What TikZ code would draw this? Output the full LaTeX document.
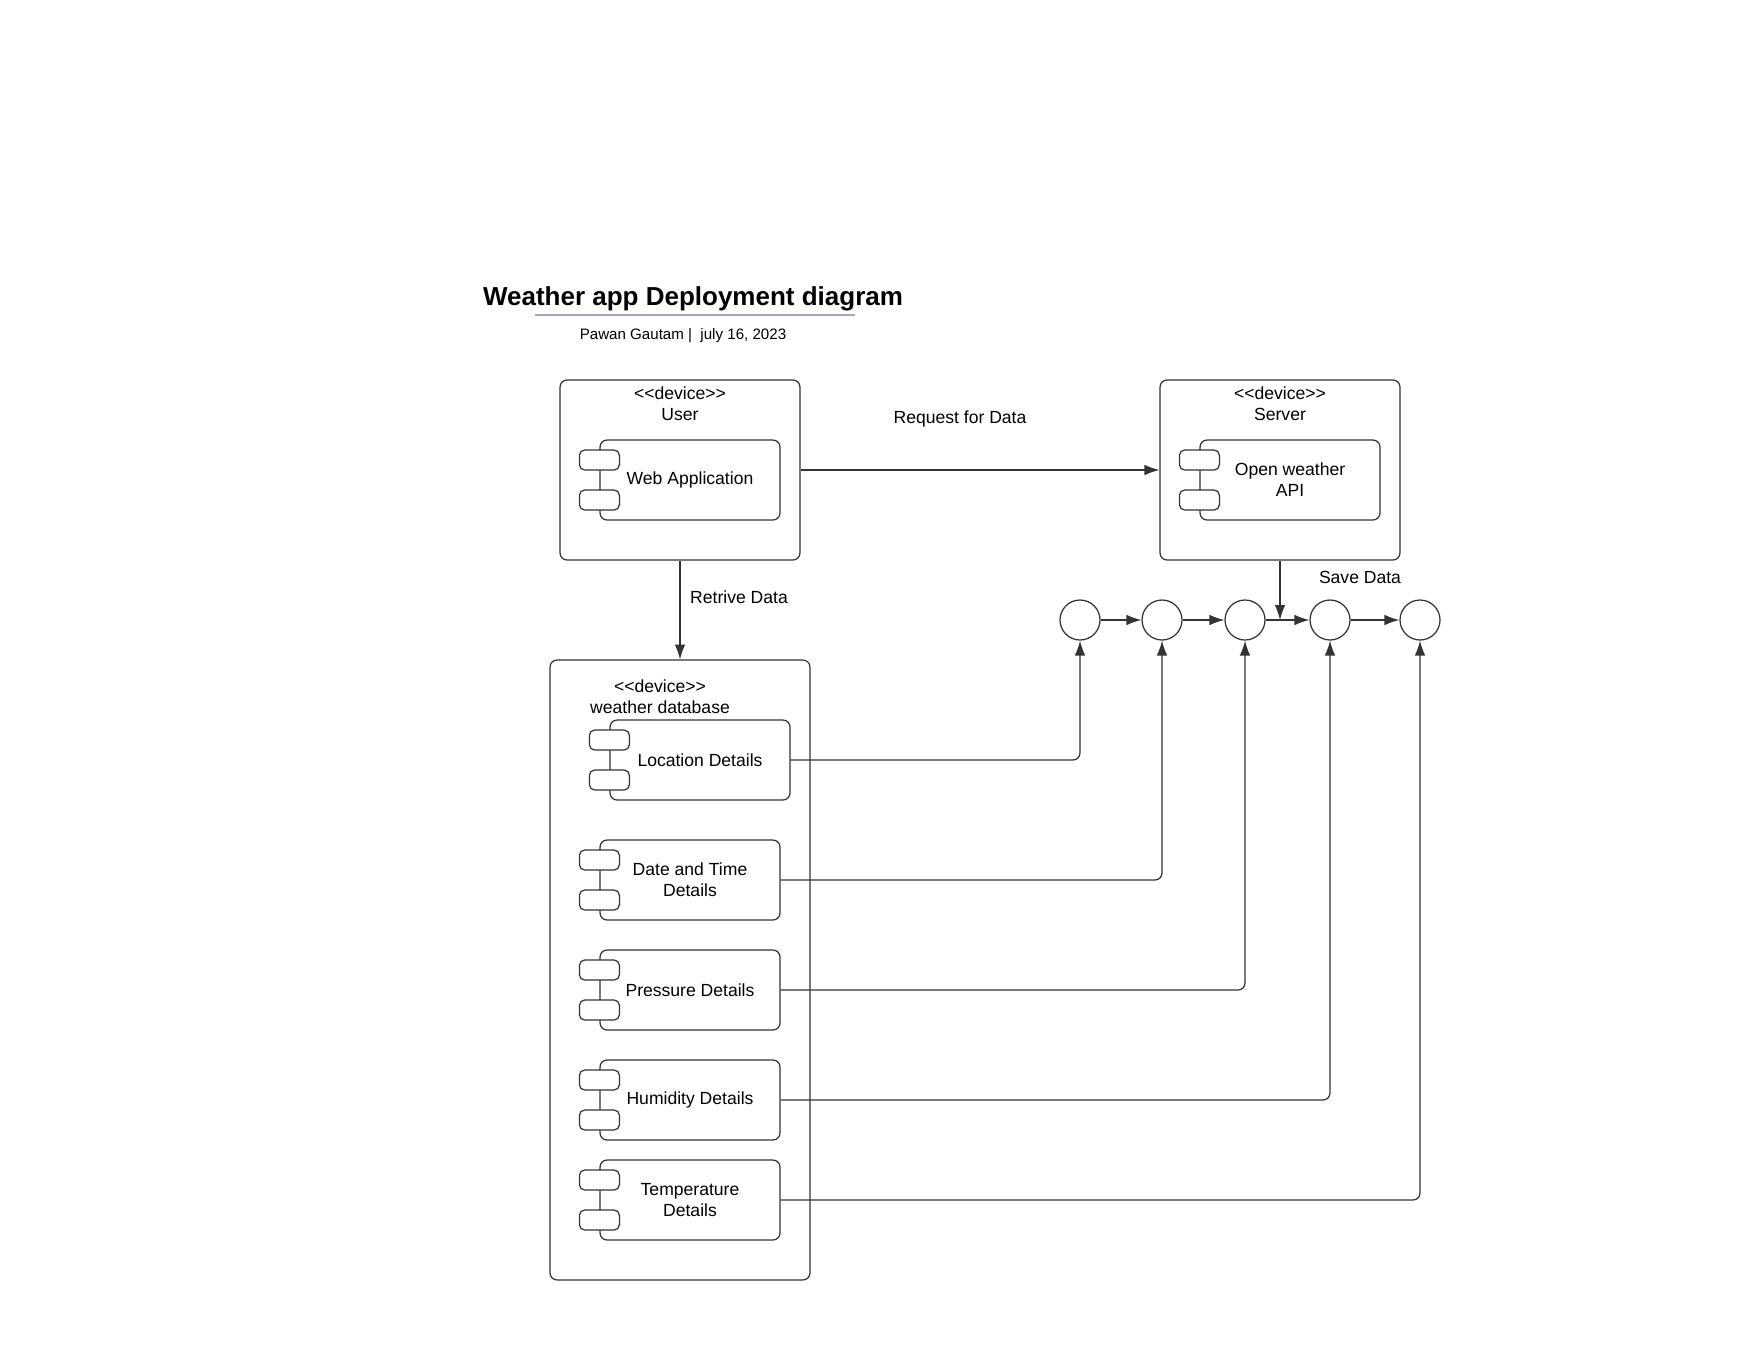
\documentclass[tikz,border=0pt]{standalone}
\usepackage{fontspec}
\setmainfont{Liberation Sans}
\usepackage{tikz}
\usetikzlibrary{arrows.meta}
\definecolor{ink}{HTML}{333333}
\definecolor{rulegray}{HTML}{A3A7B8}
\newcommand\stereo[1]{<\kern0pt<#1>\kern0pt>}

\begin{document}
\begin{tikzpicture}[>={Latex[length=8.5pt,width=6pt]}, x=0.02cm, y=-0.02cm,
  every node/.style={font=\fontsize{10}{12}\selectfont, align=center},
  line/.style={draw=ink, line width=0.7pt},
  device/.style={line, rounded corners=4pt, minimum width=4.8cm, minimum height=3.6cm},
  comp/.style={line, rounded corners=4pt, fill=white, minimum width=3.6cm, minimum height=1.6cm, inner sep=0pt},
  tab/.style={line, rounded corners=3pt, fill=white, minimum width=0.8cm, minimum height=0.4cm},
  slot/.style={line, circle, minimum size=0.8cm, inner sep=0pt}]
  \useasboundingbox (0,0) rectangle (1760,1360);

  \node[font=\fontsize{14.8}{18}\selectfont\bfseries] (title) at (693,299) {Weather app Deployment diagram};
  \draw[rulegray, line width=1.1pt] (535,315) -- (855,315);
  \node[font=\fontsize{8.6}{10}\selectfont] (byline) at (683,336) {Pawan Gautam |~ july 16, 2023};

  \node[device] (user) at (680,470) {};
  \node[device] (server) at (1280,470) {};
  \node[line, rounded corners=4pt, minimum width=5.2cm, minimum height=12.4cm] (db) at (680,970) {};
  \node (userlbl) at (680,404) {\stereo{device}\\User};
  \node (serverlbl) at (1280,404) {\stereo{device}\\Server};
  \node (dblbl) at (660,697) {\stereo{device}\\weather database};

  \node[comp] (web) at (690,480) {Web Application};
  \node[comp] (api) at (1290,480) {Open weather\\API};
  \node[comp] (loc) at (700,760) {Location Details};
  \node[comp] (date) at (690,880) {Date and Time\\Details};
  \node[comp] (pres) at (690,990) {Pressure Details};
  \node[comp] (hum) at (690,1100) {Humidity Details};
  \node[comp] (temp) at (690,1200) {Temperature\\Details};
  \foreach \c in {web,api,loc,date,pres,hum,temp} {
    \node[tab] (\c-a) at ([yshift=0.4cm]\c.west) {};
    \node[tab] (\c-b) at ([yshift=-0.4cm]\c.west) {};
  }

  \foreach \i/\x in {1/1080,2/1162,3/1245,4/1330,5/1420}
    \node[slot] (s\i) at (\x,620) {};
  \foreach \a/\b in {1/2,2/3,3/4,4/5}
    \draw[line,->] (s\a) -- (s\b);

  \draw[line,->] (user.east) -- (server.west);
  \node (request) at (960,419) {Request for Data};
  \draw[line,->] (user.south) -- (db.north);
  \node[anchor=west] (retrive) at (684,597) {Retrive Data};
  \draw[line,->] (server.south) -- (server.south |- s3.east);
  \node (save) at (1360,577) {Save Data};

  \foreach \c/\s in {loc/1,date/2,pres/3,hum/4,temp/5}
    \draw[line,->,rounded corners=4pt] (\c.east) -| (s\s.south);
\end{tikzpicture}
\end{document}
